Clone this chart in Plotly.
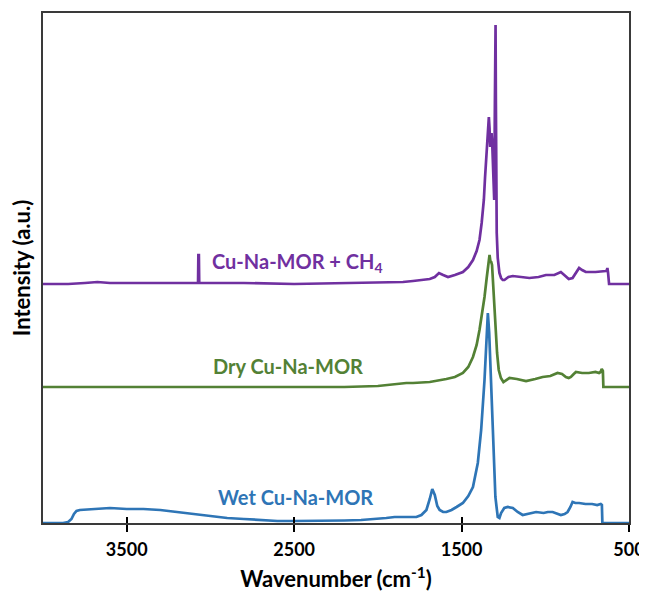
import plotly.graph_objects as go

# ---------------- data ----------------
X_TICKS = [3500, 2500, 1500, 500]

# Wet Cu-Na-MOR : (wavenumber cm-1, intensity a.u.)
WET = [(4000, 0), (3880, 0), (3850, 1), (3830, 4), (3815, 9), (3800, 12), (3780, 13),
       (3700, 14), (3600, 15), (3500, 14), (3400, 14), (3300, 13), (3200, 11), (3100, 9),
       (3000, 7), (2900, 5), (2800, 4), (2700, 3), (2600, 2), (2500, 2), (2400, 2),
       (2300, 2), (2200, 2.5), (2100, 3), (2000, 4), (1950, 5), (1900, 6), (1850, 6),
       (1800, 6), (1770, 6), (1740, 8), (1710, 13), (1690, 24), (1675, 34), (1660, 28),
       (1645, 17), (1631, 13), (1610, 11), (1591, 11), (1560, 13), (1530, 16), (1492, 20),
       (1460, 27), (1432, 36), (1403, 60), (1383, 93), (1363, 143), (1353, 183),
       (1343, 210), (1335, 190), (1327, 160), (1313, 93), (1298, 26), (1284, 6),
       (1274, 5), (1264, 10), (1245, 15), (1224, 16), (1194, 15), (1165, 11), (1135, 8),
       (1100, 9), (1055, 11), (1010, 10), (985, 11), (956, 11), (930, 9), (907, 8),
       (885, 9), (867, 11), (850, 16), (837, 21), (820, 20), (798, 20), (760, 19),
       (720, 19), (690, 18), (669, 19), (662, 18), (659, 0), (600, 0), (500, 0)]

# Dry Cu-Na-MOR
DRY = [(4000, 0), (3800, 0), (3500, 0), (3000, 0), (2500, 0), (2200, 0), (2000, 1),
       (1900, 3), (1830, 4), (1790, 4), (1690, 5), (1591, 8), (1540, 10), (1492, 14),
       (1460, 20), (1432, 30), (1410, 42), (1393, 57), (1375, 76), (1363, 90),
       (1350, 109), (1343, 117), (1338, 126), (1333, 132), (1328, 126), (1323, 125),
       (1318, 122), (1313, 107), (1305, 82), (1298, 57), (1288, 34), (1278, 17),
       (1265, 9), (1250, 5), (1230, 7), (1214, 9), (1170, 8), (1115, 6), (1060, 8),
       (1016, 10), (970, 11), (927, 14), (900, 13), (877, 10), (860, 9), (847, 10),
       (830, 13), (817, 15), (780, 14), (740, 14), (700, 15), (679, 14), (670, 15),
       (663, 18), (656, 16), (653, 0), (600, 0), (500, 0)]

# Cu-Na-MOR + CH4
CH4 = [(4000, 0), (3850, 0), (3750, 1), (3675, 2), (3600, 1), (3400, 1), (3200, 1),
       (3090, 1), (3074, 1), (3072, 29), (3069, 29), (3067, 1), (3050, 1), (2800, 1),
       (2500, 0), (2200, 1), (2000, 1), (1850, 2), (1790, 3), (1720, 4), (1690, 5),
       (1660, 7), (1635, 11), (1610, 9), (1581, 7), (1540, 9), (1492, 12), (1460, 17),
       (1432, 24), (1410, 33), (1393, 44), (1380, 61), (1367, 84), (1360, 106),
       (1353, 127), (1347, 141), (1343, 151), (1339, 161), (1337, 167), (1333, 156),
       (1329, 137), (1325, 146), (1321, 151), (1317, 141), (1313, 127), (1309, 106),
       (1305, 84), (1301, 181), (1299, 259), (1297, 259), (1295, 181), (1293, 84),
       (1290, 51), (1284, 26), (1274, 11), (1264, 6), (1254, 4), (1244, 4), (1220, 7),
       (1194, 8), (1150, 7), (1095, 6), (1040, 7), (996, 9), (946, 9), (925, 11),
       (907, 12), (880, 8), (860, 5), (837, 6), (815, 12), (798, 16), (780, 14),
       (758, 12), (700, 12), (639, 13), (632, 14), (629, 16), (625, 11), (619, 0),
       (600, 0), (500, 0)]

SERIES_NAMES = ["Wet Cu-Na-MOR", "Dry Cu-Na-MOR", "Cu-Na-MOR + CH<sub>4</sub>"]
SERIES_OFFSETS = [0, 136, 239]          # vertical stacking offsets (a.u.)
LABEL_POS = [(2490, 26), (2537, 157), (2478, 261)]   # label anchors (wavenumber, a.u.)

COLORS = ["#2E75B6", "#538135", "#7030A0"]
FONT = "Lato, 'Open Sans', sans-serif"

fig = go.Figure()
for data, off, col, name in zip([WET, DRY, CH4], SERIES_OFFSETS, COLORS, SERIES_NAMES):
    xs = [p[0] for p in data]
    ys = [p[1] + off for p in data]
    fig.add_trace(go.Scatter(x=xs, y=ys, mode="lines", name=name,
                             line=dict(color=col, width=2.7), showlegend=False))

# invisible trace on the overlaid axis that carries the inward tick marks
fig.add_trace(go.Scatter(x=[4000, 500], y=[0, 0], mode="lines", xaxis="x2",
                         line=dict(width=0), hoverinfo="skip", showlegend=False))

for (lx, ly), name, col in zip(LABEL_POS, SERIES_NAMES, COLORS):
    fig.add_annotation(x=lx, y=ly, text=name, showarrow=False,
                       font=dict(family=FONT, size=20, color=col, weight="bold"))

axis_col = "#3a3a3a"
# the page body adds an 8 px margin, so the figure is 8 px smaller on each side
fig.update_layout(
    width=639, height=584,
    margin=dict(l=35, r=18, t=5, b=69),
    plot_bgcolor="white", paper_bgcolor="white",
    font=dict(family=FONT, color="black"),
    xaxis=dict(range=[4000, 500], tickvals=X_TICKS, ticks="outside", ticklen=7,
               tickwidth=1.5, tickcolor="black", showline=True, linecolor=axis_col,
               linewidth=1.5, mirror=True, showgrid=False, zeroline=False,
               automargin=False, ticklabelstandoff=3, ticklabeloverflow="allow",
               tickfont=dict(family=FONT, size=18, color="black", weight="bold"),
               title=dict(text="Wavenumber (cm<sup>-1</sup>)", standoff=16,
                          font=dict(family=FONT, size=22, color="black", weight="bold"))),
    xaxis2=dict(range=[4000, 500], tickvals=X_TICKS, ticks="inside", ticklen=6,
                tickwidth=1.5, tickcolor="black", overlaying="x", side="bottom",
                automargin=False,
                showticklabels=False, showline=False, showgrid=False, zeroline=False),
    yaxis=dict(range=[0, 510], showticklabels=False, ticks="", showline=True,
               linecolor=axis_col, linewidth=1.5, mirror=True, showgrid=False,
               zeroline=False, automargin=False,
               title=dict(text="Intensity (a.u.)", standoff=8,
                          font=dict(family=FONT, size=22, color="black", weight="bold"))),
)

fig.write_html("out.html")
